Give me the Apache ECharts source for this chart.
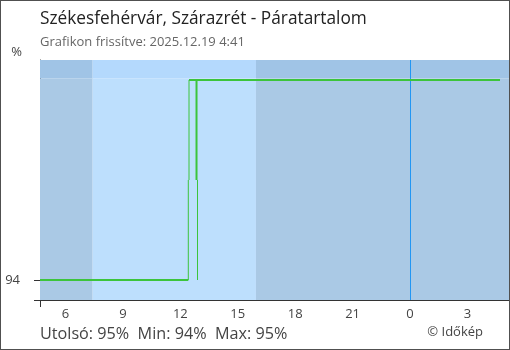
<!DOCTYPE html>
<html><head><meta charset="utf-8">
<script src="https://cdn.jsdelivr.net/npm/echarts@6/dist/echarts.min.js"></script>
<style>
html,body{margin:0;padding:0;background:#fff;}
#wrap{position:relative;width:510px;height:350px;}
#c{width:510px;height:350px;}
#frame{position:absolute;left:0;top:0;width:510px;height:350px;box-sizing:border-box;border:1px solid #505050;pointer-events:none;}
</style></head>
<body><div id="wrap"><div id="c"></div><div id="frame"></div></div>
<script>
// ---- data ----
const titleText = 'Székesfehérvár, Szárazrét - Páratartalom';
const subtitleText = 'Grafikon frissítve: 2025.12.19 4:41';
const statsText = 'Utolsó: 95%  Min: 94%  Max: 95%';
const creditText = '© Időkép';
const xMin = 4.668, xMax = 29.17;          // hours (24+ = next day)
const yMin = 93.9, yMax = 95.1;
const xTicks = [6, 9, 12, 15, 18, 21, 24, 27];
const yTicks = [94];
const sunrise = 7.42, sunset = 15.95, midnight = 24;
// thick humidity line (hours, %) ; '-' breaks segments
const thickHours  = [4.668, 12.416, '-', 12.453, 28.70, '-', 12.845, 12.845];
const thickValues = [94,    94,     '-', 95,     95,    '-', 95,     94.5];
// thin connecting strokes
const thinHours  = [12.416, 12.416, '-', 12.453, 12.453, '-', 12.897, 12.897];
const thinValues = [94,     94.5,   '-', 94.5,   95,     '-', 94.5,   94];

const zip = (a, b) => a.map((v, i) => (v === '-' ? ['-', '-'] : [v, b[i]]));
const topEdge = 95.008;
const dark = '#aac9e5', darkTop = '#a0c4e6', light = '#bddffd', lightTop = '#b4d9fd';

const chart = echarts.init(document.getElementById('c'));
const font = 'Open Sans';
chart.setOption({
  animation: false,
  backgroundColor: '#fff',
  textStyle: {fontFamily: font},
  title: [
    {text: titleText, left: 35, top: 6, textStyle: {fontFamily: font, fontSize: 17.3, fontWeight: 'normal', color: '#222'}},
    {text: subtitleText, left: 35, top: 31, textStyle: {fontFamily: font, fontSize: 13, fontWeight: 'normal', color: '#666'}},
    {text: statsText, left: 35, top: 321, textStyle: {fontFamily: font, fontSize: 16.2, fontWeight: 'normal', color: '#444'}},
    {text: creditText, right: 22, top: 321, textStyle: {fontFamily: font, fontSize: 13, fontWeight: 'normal', color: '#444'}}
  ],
  grid: {left: 40, right: 1, top: 60, bottom: 50},
  xAxis: [{
    type: 'value', min: xMin, max: xMax,
    splitLine: {show: false},
    axisLine: {show: true, lineStyle: {color: '#333'}},
    axisTick: {show: true, inside: true, length: 7, customValues: xTicks, lineStyle: {color: '#333'}},
    axisLabel: {customValues: xTicks, formatter: v => String(Math.round(v) % 24), color: '#444', fontSize: 13, margin: 8, fontFamily: font}
  }, {
    type: 'value', min: xMin, max: xMax, position: 'bottom',
    splitLine: {show: false}, axisLine: {show: false},
    axisTick: {show: true, inside: false, length: 7, customValues: [xMin], lineStyle: {color: '#333'}},
    axisLabel: {show: false}
  }],
  yAxis: {
    type: 'value', min: yMin, max: yMax,
    name: '%', nameLocation: 'end', nameGap: 8,
    nameTextStyle: {align: 'right', verticalAlign: 'middle', padding: [0, 18, 0, 0], color: '#444', fontSize: 13, fontFamily: font},
    splitLine: {show: false},
    axisLine: {show: true, lineStyle: {color: '#333'}},
    axisTick: {show: true, length: 6, customValues: [yMin, 94], lineStyle: {color: '#333'}},
    axisLabel: {customValues: yTicks, color: '#444', fontSize: 13, margin: 20, fontFamily: font}
  },
  series: [
    {
      type: 'line', name: 'bg', data: [], silent: true,
      markArea: {
        silent: true,
        data: [
          [{xAxis: xMin, yAxis: yMin, itemStyle: {color: dark}}, {xAxis: sunrise, yAxis: topEdge}],
          [{xAxis: sunrise, yAxis: yMin, itemStyle: {color: light}}, {xAxis: sunset, yAxis: topEdge}],
          [{xAxis: sunset, yAxis: yMin, itemStyle: {color: dark}}, {xAxis: xMax, yAxis: topEdge}],
          [{xAxis: xMin, yAxis: topEdge, itemStyle: {color: darkTop}}, {xAxis: sunrise, yAxis: yMax}],
          [{xAxis: sunrise, yAxis: topEdge, itemStyle: {color: lightTop}}, {xAxis: sunset, yAxis: yMax}],
          [{xAxis: sunset, yAxis: topEdge, itemStyle: {color: darkTop}}, {xAxis: xMax, yAxis: yMax}]
        ]
      },
      markLine: {
        silent: true, symbol: 'none', label: {show: false},
        lineStyle: {color: '#2196f3', width: 1, type: 'solid'},
        data: [{xAxis: midnight}]
      }
    },
    {
      type: 'line', name: 'thick', data: zip(thickHours, thickValues),
      showSymbol: false, connectNulls: false,
      lineStyle: {color: '#3cc43c', width: 2}, z: 5
    },
    {
      type: 'line', name: 'thin', data: zip(thinHours, thinValues),
      showSymbol: false, connectNulls: false,
      lineStyle: {color: '#3cc43c', width: 1}, z: 5
    }
  ]
});
</script></body></html>
